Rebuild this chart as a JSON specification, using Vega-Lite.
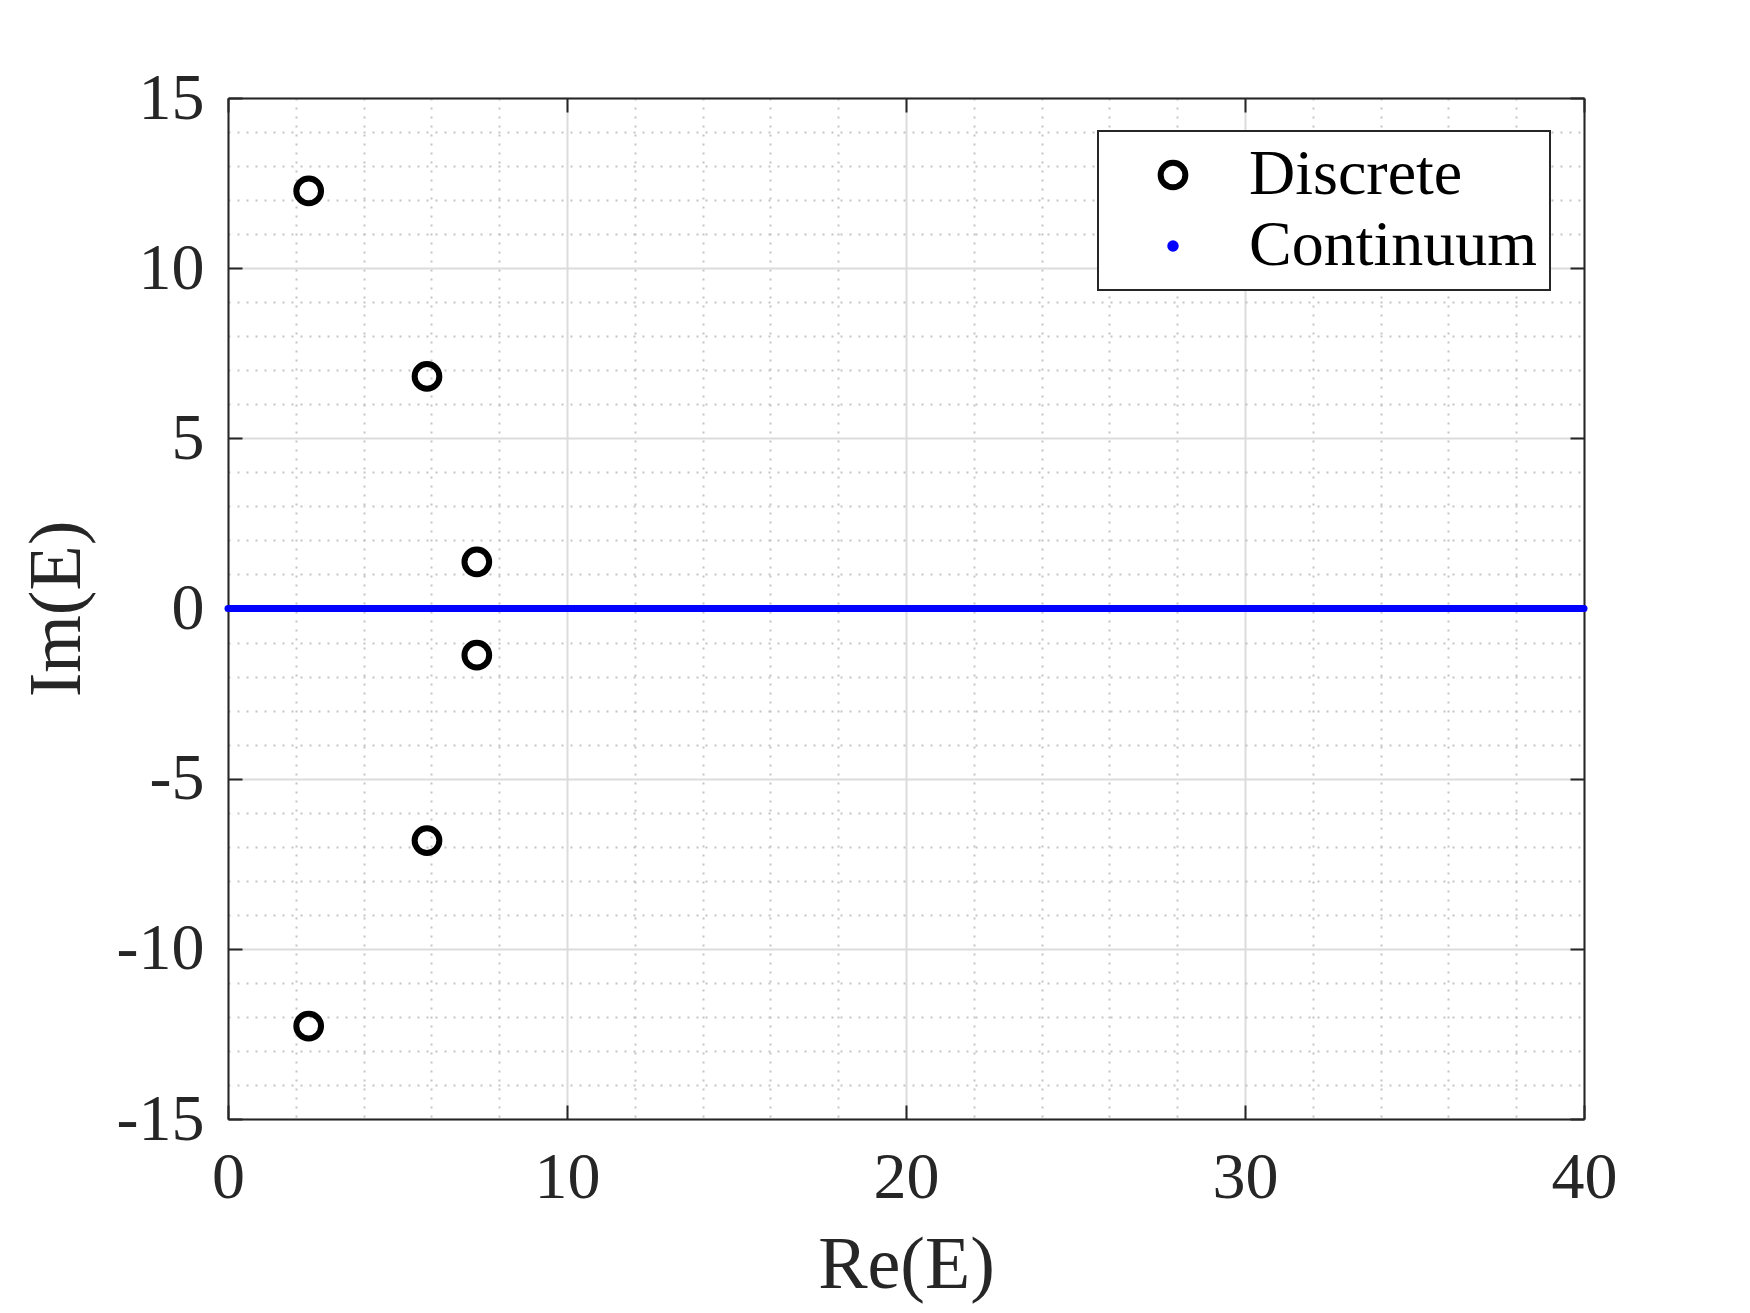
{
  "$schema": "https://vega.github.io/schema/vega-lite/v6.json",
  "width": 1356,
  "height": 1021,
  "autosize": {"type": "none"},
  "padding": {"left": 228, "top": 98, "right": 166, "bottom": 194},
  "background": "white",
  "data": {
    "values": [
      {"re": 0, "im": 0, "series": "Continuum"},
      {"re": 2, "im": 0, "series": "Continuum"},
      {"re": 4, "im": 0, "series": "Continuum"},
      {"re": 6, "im": 0, "series": "Continuum"},
      {"re": 8, "im": 0, "series": "Continuum"},
      {"re": 10, "im": 0, "series": "Continuum"},
      {"re": 12, "im": 0, "series": "Continuum"},
      {"re": 14, "im": 0, "series": "Continuum"},
      {"re": 16, "im": 0, "series": "Continuum"},
      {"re": 18, "im": 0, "series": "Continuum"},
      {"re": 20, "im": 0, "series": "Continuum"},
      {"re": 22, "im": 0, "series": "Continuum"},
      {"re": 24, "im": 0, "series": "Continuum"},
      {"re": 26, "im": 0, "series": "Continuum"},
      {"re": 28, "im": 0, "series": "Continuum"},
      {"re": 30, "im": 0, "series": "Continuum"},
      {"re": 32, "im": 0, "series": "Continuum"},
      {"re": 34, "im": 0, "series": "Continuum"},
      {"re": 36, "im": 0, "series": "Continuum"},
      {"re": 38, "im": 0, "series": "Continuum"},
      {"re": 40, "im": 0, "series": "Continuum"},
      {"re": 2.38, "im": 12.27, "series": "Discrete"},
      {"re": 5.87, "im": 6.82, "series": "Discrete"},
      {"re": 7.34, "im": 1.37, "series": "Discrete"},
      {"re": 7.34, "im": -1.37, "series": "Discrete"},
      {"re": 5.87, "im": -6.82, "series": "Discrete"},
      {"re": 2.38, "im": -12.27, "series": "Discrete"}
    ]
  },
  "layer": [
    {
      "transform": [{"filter": "datum.series === 'Continuum'"}],
      "mark": {"type": "line", "strokeWidth": 7, "strokeCap": "round"},
      "encoding": {
        "x": {
          "field": "re",
          "type": "quantitative",
          "scale": {"domain": [0, 40], "nice": false, "zero": false},
          "axis": {
            "orient": "bottom",
            "values": [0, 2, 4, 6, 8, 10, 12, 14, 16, 18, 20, 22, 24, 26, 28, 30, 32, 34, 36, 38, 40],
            "labelExpr": "datum.value % 10 === 0 ? '' + datum.value : ''",
            "labelOverlap": false,
            "labelFlush": false,
            "labelPadding": 40,
            "tickSize": -14,
            "tickOpacity": {"condition": {"test": "datum.value % 10 === 0", "value": 1}, "value": 0},
            "grid": true,
            "gridColor": {"condition": {"test": "datum.value % 10 === 0", "value": "#dcdcdc"}, "value": "#c4c4c4"},
            "gridDash": {"condition": {"test": "datum.value % 10 === 0", "value": []}, "value": [2, 7]},
            "title": "Re(E)",
            "titleBaseline": "alphabetic",
            "titleY": 168
          }
        },
        "y": {
          "field": "im",
          "type": "quantitative",
          "scale": {"domain": [-15, 15], "nice": false, "zero": false},
          "axis": {
            "orient": "left",
            "values": [-15, -14, -13, -12, -11, -10, -9, -8, -7, -6, -5, -4, -3, -2, -1, 0, 1, 2, 3, 4, 5, 6, 7, 8, 9, 10, 11, 12, 13, 14, 15],
            "labelExpr": "datum.value % 5 === 0 ? '' + datum.value : ''",
            "labelOverlap": false,
            "labelFlush": false,
            "labelPadding": 38,
            "tickSize": -14,
            "tickOpacity": {"condition": {"test": "datum.value % 5 === 0", "value": 1}, "value": 0},
            "grid": true,
            "gridColor": {"condition": {"test": "datum.value % 5 === 0", "value": "#dcdcdc"}, "value": "#c4c4c4"},
            "gridDash": {"condition": {"test": "datum.value % 5 === 0", "value": []}, "value": [2, 7]},
            "title": "Im(E)",
            "titleBaseline": "alphabetic",
            "titleX": -149
          }
        },
        "color": {
          "field": "series",
          "type": "nominal",
          "scale": {"domain": ["Discrete", "Continuum"], "range": ["black", "#0000ff"]},
          "legend": {
            "title": null,
            "orient": "none",
            "legendX": 870,
            "legendY": 33,
            "padding": 12,
            "symbolOffset": 31,
            "labelOffset": 44,
            "rowPadding": 7,
            "symbolSize": 610,
            "symbolStrokeWidth": 6,
            "labelFont": "Liberation Serif",
            "labelFontSize": 64,
            "labelLimit": 600,
            "labelColor": "black",
            "fillColor": "white",
            "strokeColor": "#262626",
            "encode": {
              "symbols": {
                "update": {
                  "shape": {"value": "circle"},
                  "size": {"signal": "datum.value === 'Continuum' ? 30 : 610"},
                  "fill": {"signal": "datum.value === 'Continuum' ? '#0000ff' : 'transparent'"},
                  "stroke": {"signal": "datum.value === 'Continuum' ? 'transparent' : 'black'"},
                  "strokeWidth": {"value": 6},
                  "opacity": {"value": 1}
                }
              },
              "legend": {
                "update": {"strokeWidth": {"value": 2}}
              }
            }
          }
        }
      }
    },
    {
      "transform": [{"filter": "datum.series === 'Discrete'"}],
      "mark": {"type": "point", "shape": "circle", "filled": false, "size": 610, "strokeWidth": 6, "opacity": 1},
      "encoding": {
        "x": {
          "field": "re",
          "type": "quantitative",
          "axis": {
            "orient": "top",
            "values": [0, 10, 20, 30, 40],
            "labels": false,
            "title": null,
            "grid": false,
            "tickSize": -14
          }
        },
        "y": {
          "field": "im",
          "type": "quantitative",
          "axis": {
            "orient": "right",
            "values": [-15, -10, -5, 0, 5, 10, 15],
            "labels": false,
            "title": null,
            "grid": false,
            "tickSize": -14
          }
        },
        "color": {"field": "series", "type": "nominal"}
      }
    }
  ],
  "resolve": {"axis": {"x": "independent", "y": "independent"}},
  "config": {
    "view": {"stroke": null},
    "axis": {
      "labelFont": "Liberation Serif",
      "labelFontSize": 66,
      "labelColor": "#262626",
      "titleFont": "Liberation Serif",
      "titleFontSize": 74,
      "titleFontWeight": "normal",
      "titleColor": "#262626",
      "domainColor": "#262626",
      "domainWidth": 2,
      "tickColor": "#262626",
      "tickWidth": 2,
      "gridWidth": 2
    }
  }
}
